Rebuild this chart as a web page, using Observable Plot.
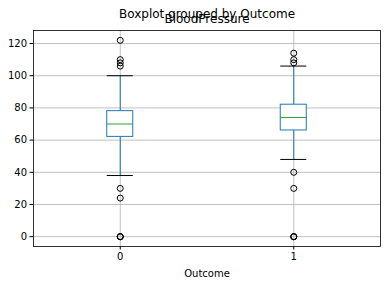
<!DOCTYPE html>
<html>
<head>
<meta charset="utf-8">
<script src="https://cdn.jsdelivr.net/npm/d3@7"></script>
<script src="https://cdn.jsdelivr.net/npm/@observablehq/plot@0.6"></script>
<style>
  html, body { margin: 0; padding: 0; background: #fff; }
</style>
</head>
<body>
<div id="chart"></div>
<script>
// Groups (Outcome) and their box statistics for BloodPressure
const outcomes = ["0", "1"];
const positions = [1, 2];
const q1 = [62, 66];
const medians = [70, 74];
const q3 = [78, 82];
const whiskerLow = [38, 48];
const whiskerHigh = [100, 106];
// outliers (the zero value occurs several times in each group)
const outliers0 = [122, 110, 108, 106, 30, 24, 0, 0, 0];
const outliers1 = [114, 110, 108, 40, 30, 0, 0, 0];
const yTicks = [0, 20, 40, 60, 80, 100, 120];

const boxes = outcomes.map((o, i) => ({
  outcome: o, pos: positions[i], q1: q1[i], med: medians[i], q3: q3[i],
  lo: whiskerLow[i], hi: whiskerHigh[i]
}));
const fliers = [
  ...outliers0.map(v => ({pos: positions[0], v})),
  ...outliers1.map(v => ({pos: positions[1], v}))
];

const boxW = 0.15, capW = 0.075;
const blue = "#1f77b4", green = "#2ca02c", gridC = "#b0b0b0";

const chart = Plot.plot({
  width: 385,
  height: 284,
  marginLeft: 33,
  marginRight: 5,
  marginTop: 30,
  marginBottom: 38,
  style: {fontFamily: "DejaVu Sans", fontSize: "10px", color: "black", background: "white"},
  x: {domain: [0.5, 2.5]},
  y: {domain: [-6.1, 128.1]},
  marks: [
    Plot.gridX(positions, {stroke: gridC, strokeOpacity: 1, strokeWidth: 0.8}),
    Plot.gridY(yTicks, {stroke: gridC, strokeOpacity: 1, strokeWidth: 0.8}),
    Plot.ruleX(boxes, {x: "pos", y1: "q3", y2: "hi", stroke: blue, strokeWidth: 1}),
    Plot.ruleX(boxes, {x: "pos", y1: "lo", y2: "q1", stroke: blue, strokeWidth: 1}),
    Plot.rect(boxes, {x1: d => d.pos - boxW / 2, x2: d => d.pos + boxW / 2, y1: "q1", y2: "q3",
      fill: "white", stroke: blue, strokeWidth: 1}),
    Plot.ruleY(boxes, {x1: d => d.pos - boxW / 2, x2: d => d.pos + boxW / 2, y: "med", stroke: green, strokeWidth: 1}),
    Plot.ruleY(boxes, {x1: d => d.pos - capW, x2: d => d.pos + capW, y: "hi", stroke: "black", strokeWidth: 1}),
    Plot.ruleY(boxes, {x1: d => d.pos - capW, x2: d => d.pos + capW, y: "lo", stroke: "black", strokeWidth: 1}),
    Plot.dot(fliers, {x: "pos", y: "v", r: 3, stroke: "black", fill: "none", strokeWidth: 1}),
    Plot.frame({stroke: "black", strokeWidth: 0.8}),
    Plot.axisX(positions, {tickSize: 3.5, tickPadding: 3, tickFormat: d => outcomes[positions.indexOf(d)], label: null, fontSize: 10, stroke: "black"}),
    Plot.axisY(yTicks, {tickSize: 3.5, tickPadding: 3, label: null, fontSize: 10, stroke: "black"}),
    Plot.text(["Outcome"], {frameAnchor: "bottom", dy: 30, fontSize: 10, fill: "black"}),
    Plot.text(["BloodPressure"], {frameAnchor: "top", dy: -16.5, fontSize: 12, fill: "black"}),
    Plot.text(["Boxplot grouped by Outcome"], {frameAnchor: "top", dy: -21.5, fontSize: 12, fill: "black"})
  ]
});
document.getElementById("chart").appendChild(chart);
</script>
</body>
</html>
